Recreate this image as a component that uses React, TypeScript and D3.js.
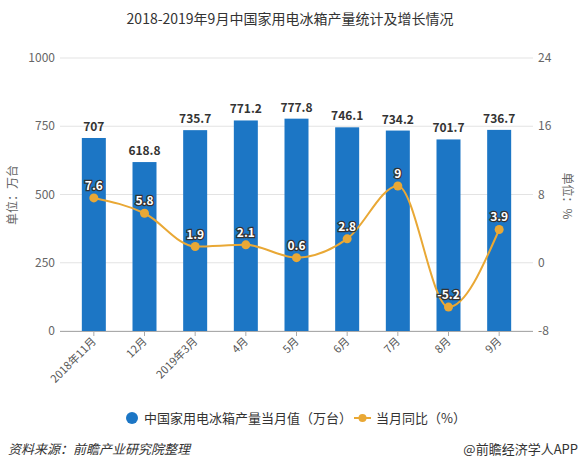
import React from "react";
import * as d3 from "d3";

const categories = ["2018年11月", "12月", "2019年3月", "4月", "5月", "6月", "7月", "8月", "9月"];
const production = [707, 618.8, 735.7, 771.2, 777.8, 746.1, 734.2, 701.7, 736.7];
const yoy = [7.6, 5.8, 1.9, 2.1, 0.6, 2.8, 9, -5.2, 3.9];
const leftTicks = [0, 250, 500, 750, 1000];
const rightTicks = [-8, 0, 8, 16, 24];

const W = 581, H = 469;
const BAR = "#1C76C5";
const LINE = "#E9A835";
const FONT = "'Noto Sans CJK SC', 'Noto Sans', sans-serif";

export default function App() {
  const x = d3.scaleBand<string>().domain(categories).range([68.5, 524.5]);
  const yL = d3.scaleLinear().domain([0, 1000]).range([331, 58]);
  const yR = d3.scaleLinear().domain([-8, 24]).range([331, 58]);
  const cx = (c: string) => (x(c) as number) + x.bandwidth() / 2;
  const barW = 24;
  const line = d3
    .line<number>()
    .x((_, i) => cx(categories[i]))
    .y((d) => yR(d))
    .curve(d3.curveMonotoneX);

  return (
    <svg width={W} height={H} style={{ display: "block", position: "absolute", left: 0, top: 0 }} fontFamily={FONT}>
      <rect width={W} height={H} fill="#fff" />
      <text x={290} y={24} textAnchor="middle" fontSize={14} fill="#333">
        2018-2019年9月中国家用电冰箱产量统计及增长情况
      </text>
      {leftTicks.map((t) => (
        <g key={t}>
          <line x1={60} x2={533} y1={yL(t)} y2={yL(t)} stroke="#e3e3e3" />
          <text x={55} y={yL(t) + 4} textAnchor="end" fontSize={12} fill="#666">{t}</text>
        </g>
      ))}
      {rightTicks.map((t) => (
        <text key={t} x={538} y={yR(t) + 4} textAnchor="start" fontSize={12} fill="#666">{t}</text>
      ))}
      <line x1={60} x2={533} y1={331.5} y2={331.5} stroke="#aaa" />
      {categories.map((c) => (
        <g key={c}>
          <line x1={cx(c)} x2={cx(c)} y1={331} y2={336} stroke="#aaa" />
          <text
            transform={`translate(${cx(c) + 3},${342}) rotate(-45)`}
            textAnchor="end"
            fontSize={11}
            fill="#555"
          >
            {c}
          </text>
        </g>
      ))}
      <text transform={`translate(17,195) rotate(-90)`} textAnchor="middle" fontSize={12} fill="#666">单位：万台</text>
      <text transform={`translate(563,196) rotate(90)`} textAnchor="middle" fontSize={12} fill="#666">单位：%</text>
      {production.map((v, i) => (
        <g key={i}>
          <rect x={cx(categories[i]) - barW / 2} y={yL(v)} width={barW} height={331 - yL(v)} fill={BAR} />
          <text x={cx(categories[i])} y={yL(v) - 7} textAnchor="middle" fontSize={12} fontWeight="bold" fill="#333">{v}</text>
        </g>
      ))}
      <path d={line(yoy) || ""} fill="none" stroke={LINE} strokeWidth={2} />
      {yoy.map((v, i) => (
        <g key={i}>
          <circle cx={cx(categories[i])} cy={yR(v)} r={4.5} fill={LINE} />
          <text
            x={cx(categories[i])}
            y={yR(v) - 8}
            textAnchor="middle"
            fontSize={12}
            fontWeight="bold"
            fill="#fff"
            stroke="#333"
            strokeWidth={2.5}
            paintOrder="stroke"
          >
            {v}
          </text>
        </g>
      ))}
      <circle cx={132} cy={418} r={6} fill={BAR} />
      <text x={144} y={423} fontSize={13} fill="#333">中国家用电冰箱产量当月值（万台）</text>
      <line x1={354} x2={371} y1={418} y2={418} stroke={LINE} strokeWidth={2} />
      <circle cx={362.5} cy={418} r={4} fill={LINE} />
      <text x={376} y={423} fontSize={13} fill="#333">当月同比（%）</text>
      <text x={8} y={454} fontSize={13} fontStyle="italic" fill="#333">资料来源：前瞻产业研究院整理</text>
      <text x={578} y={454} textAnchor="end" fontSize={13} fill="#333">@前瞻经济学人APP</text>
    </svg>
  );
}
